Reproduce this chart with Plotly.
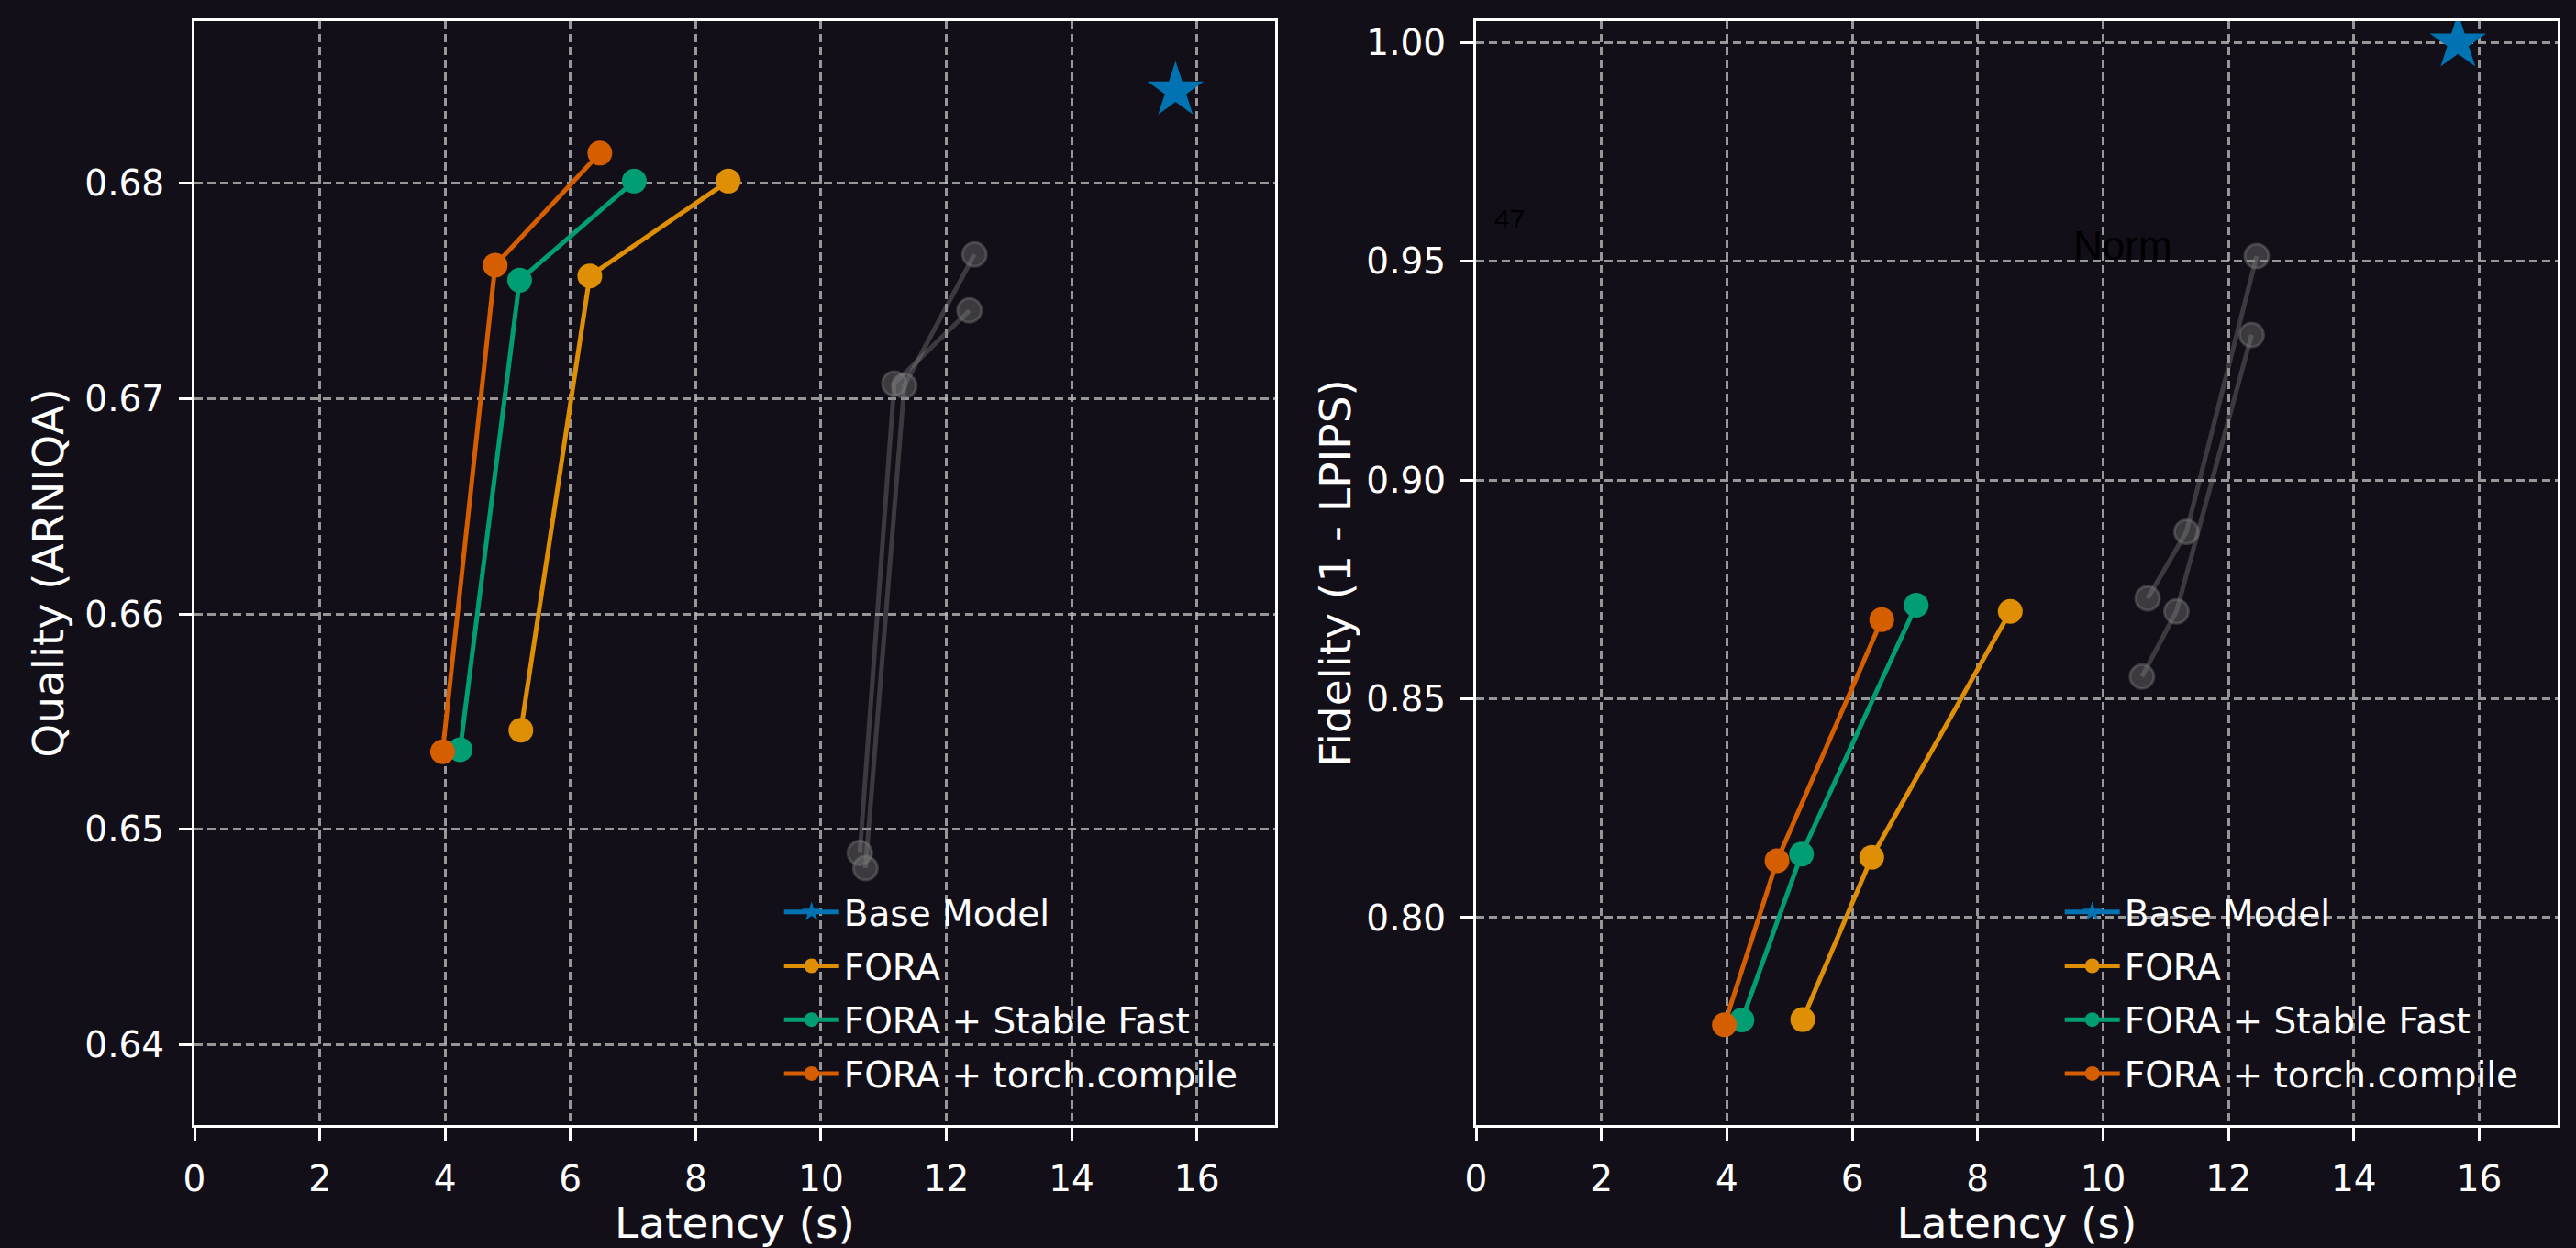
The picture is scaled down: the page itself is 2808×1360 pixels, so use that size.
import plotly.graph_objects as go
from plotly.subplots import make_subplots

# ---------------- data ----------------
base_latency = [15.66]
base_quality = [0.6843]
base_fidelity = [1.0]

fora_latency = [5.21, 6.31, 8.52]
fora_quality = [0.6546, 0.6757, 0.6801]
fora_fidelity = [0.7767, 0.8138, 0.8700]

sf_latency = [4.24, 5.19, 7.02]
sf_quality = [0.6537, 0.6755, 0.6801]
sf_fidelity = [0.7766, 0.8145, 0.8714]

tc_latency = [3.96, 4.80, 6.47]
tc_quality = [0.6536, 0.6762, 0.6814]
tc_fidelity = [0.7755, 0.8130, 0.8681]

gray1_latency = [12.45, 11.33, 10.71]
gray1_quality = [0.6767, 0.6706, 0.6482]
gray1_fidelity = [0.9512, 0.8882, 0.8730]

gray2_latency = [12.37, 11.17, 10.62]
gray2_quality = [0.6741, 0.6707, 0.6489]
gray2_fidelity = [0.9332, 0.8700, 0.8551]

x_ticks = [0, 2, 4, 6, 8, 10, 12, 14, 16]
q_ticks = [0.64, 0.65, 0.66, 0.67, 0.68]
f_ticks = [0.80, 0.85, 0.90, 0.95, 1.00]

series_names = ["Base Model", "FORA", "FORA + Stable Fast", "FORA + torch.compile"]
colors = ["#0173B2", "#DE8F05", "#029E73", "#D55E00"]

# ---------------- styling ----------------
W, H = 2808, 1360
BG = "#130f18"
FONT = "DejaVu Sans"
TICK_SIZE = 39
TITLE_SIZE = 47
GRAY_C = "rgba(128,128,128,0.38)"

fig = make_subplots(rows=1, cols=2, horizontal_spacing=0.085)

def add_panel(col, base_y, fora_y, sf_y, tc_y, g1_y, g2_y, legend_name):
    for lat, y in ((gray1_latency, g1_y), (gray2_latency, g2_y)):
        fig.add_trace(go.Scatter(
            x=lat, y=y, mode="lines+markers", showlegend=False,
            line=dict(color=GRAY_C, width=5),
            marker=dict(size=26, color=GRAY_C, line=dict(color=GRAY_C, width=3)),
            hoverinfo="skip"), row=1, col=col)
    fig.add_trace(go.Scatter(
        x=base_latency, y=base_y, mode="lines+markers", name=series_names[0],
        legend=legend_name, legendgroup=legend_name + "0",
        line=dict(color=colors[0], width=5),
        marker=dict(symbol="star", size=46, color=colors[0])), row=1, col=col)
    for i, (name, c, lat, y) in enumerate(((series_names[1], colors[1], fora_latency, fora_y),
                                           (series_names[2], colors[2], sf_latency, sf_y),
                                           (series_names[3], colors[3], tc_latency, tc_y))):
        fig.add_trace(go.Scatter(
            x=lat, y=y, mode="lines+markers", name=name, legend=legend_name,
            legendgroup=legend_name + str(i + 1),
            line=dict(color=c, width=5),
            marker=dict(symbol="circle", size=27, color=c)), row=1, col=col)

add_panel(1, base_quality, fora_quality, sf_quality, tc_quality,
          gray1_quality, gray2_quality, "legend")
add_panel(2, base_fidelity, fora_fidelity, sf_fidelity, tc_fidelity,
          gray1_fidelity, gray2_fidelity, "legend2")

axis_common = dict(
    showline=True, linecolor="white", linewidth=3, mirror=True,
    ticks="outside", ticklen=14, tickwidth=3, tickcolor="white",
    tickfont=dict(family=FONT, size=TICK_SIZE, color="white"),
    showgrid=True, gridcolor="rgba(185,185,185,0.8)", gridwidth=2.8,
    griddash="9px,5px", zeroline=False, ticklabelstandoff=8,
)

x_range = [0, 17.25]
for col in (1, 2):
    fig.update_xaxes(
        range=x_range, tickvals=x_ticks, ticktext=[str(v) for v in x_ticks],
        title=dict(text="Latency (s)", font=dict(family=FONT, size=TITLE_SIZE, color="white"),
                   standoff=10),
        row=1, col=col, **axis_common)

fig.update_yaxes(
    range=[0.63627, 0.68753], tickvals=q_ticks, ticktext=[f"{v:.2f}" for v in q_ticks],
    title=dict(text="Quality (ARNIQA)", font=dict(family=FONT, size=TITLE_SIZE, color="white"),
               standoff=8),
    row=1, col=1, **axis_common)
fig.update_yaxes(
    range=[0.7526, 1.0049], tickvals=f_ticks, ticktext=[f"{v:.2f}" for v in f_ticks],
    title=dict(text="Fidelity (1 - LPIPS)", font=dict(family=FONT, size=TITLE_SIZE, color="white"),
               standoff=2),
    row=1, col=2, **axis_common)

L, R, T, B = 212.3, 19.7, 23.3, 134.0
PW = W - L - R
PH = H - T - B
fig.update_layout(
    xaxis=dict(domain=[0, (1390.3 - L) / PW]),
    xaxis2=dict(domain=[(1609.3 - L) / PW, 1]),
    yaxis=dict(domain=[0, 1]), yaxis2=dict(domain=[0, 1]),
)

legend_common = dict(
    bgcolor="rgba(0,0,0,0)", borderwidth=0,
    font=dict(family=FONT, size=TICK_SIZE, color="white"),
    xanchor="left", yanchor="top", itemwidth=60, tracegroupgap=5,
    traceorder="grouped",
)
fig.update_layout(
    width=W, height=H, autosize=False,
    margin=dict(l=L, r=R, t=T, b=B, autoexpand=False),
    paper_bgcolor=BG, plot_bgcolor=BG,
    legend=dict(x=(850 - L) / PW, y=(1226 - 962) / PH, **legend_common),
    legend2=dict(x=(2246 - L) / PW, y=(1226 - 962) / PH, **legend_common),
    showlegend=True,
)

# stray annotation texts visible in the reference (black)
fig.add_annotation(x=0.27, y=0.9597, xref="x2", yref="y2", text="47", showarrow=False,
                   xanchor="left", yanchor="middle",
                   font=dict(family="Liberation Sans", size=30, color="black"))
fig.add_annotation(x=9.5, y=0.9536, xref="x2", yref="y2", text="Norm", showarrow=False,
                   xanchor="left", yanchor="middle",
                   font=dict(family="Liberation Sans", size=44, color="black"))

fig.write_html(
    "out.html",
    config={"displayModeBar": False},
    post_script="document.body.style.margin='0px';document.body.style.padding='0px';"
                "document.body.style.background='" + BG + "';",
)
